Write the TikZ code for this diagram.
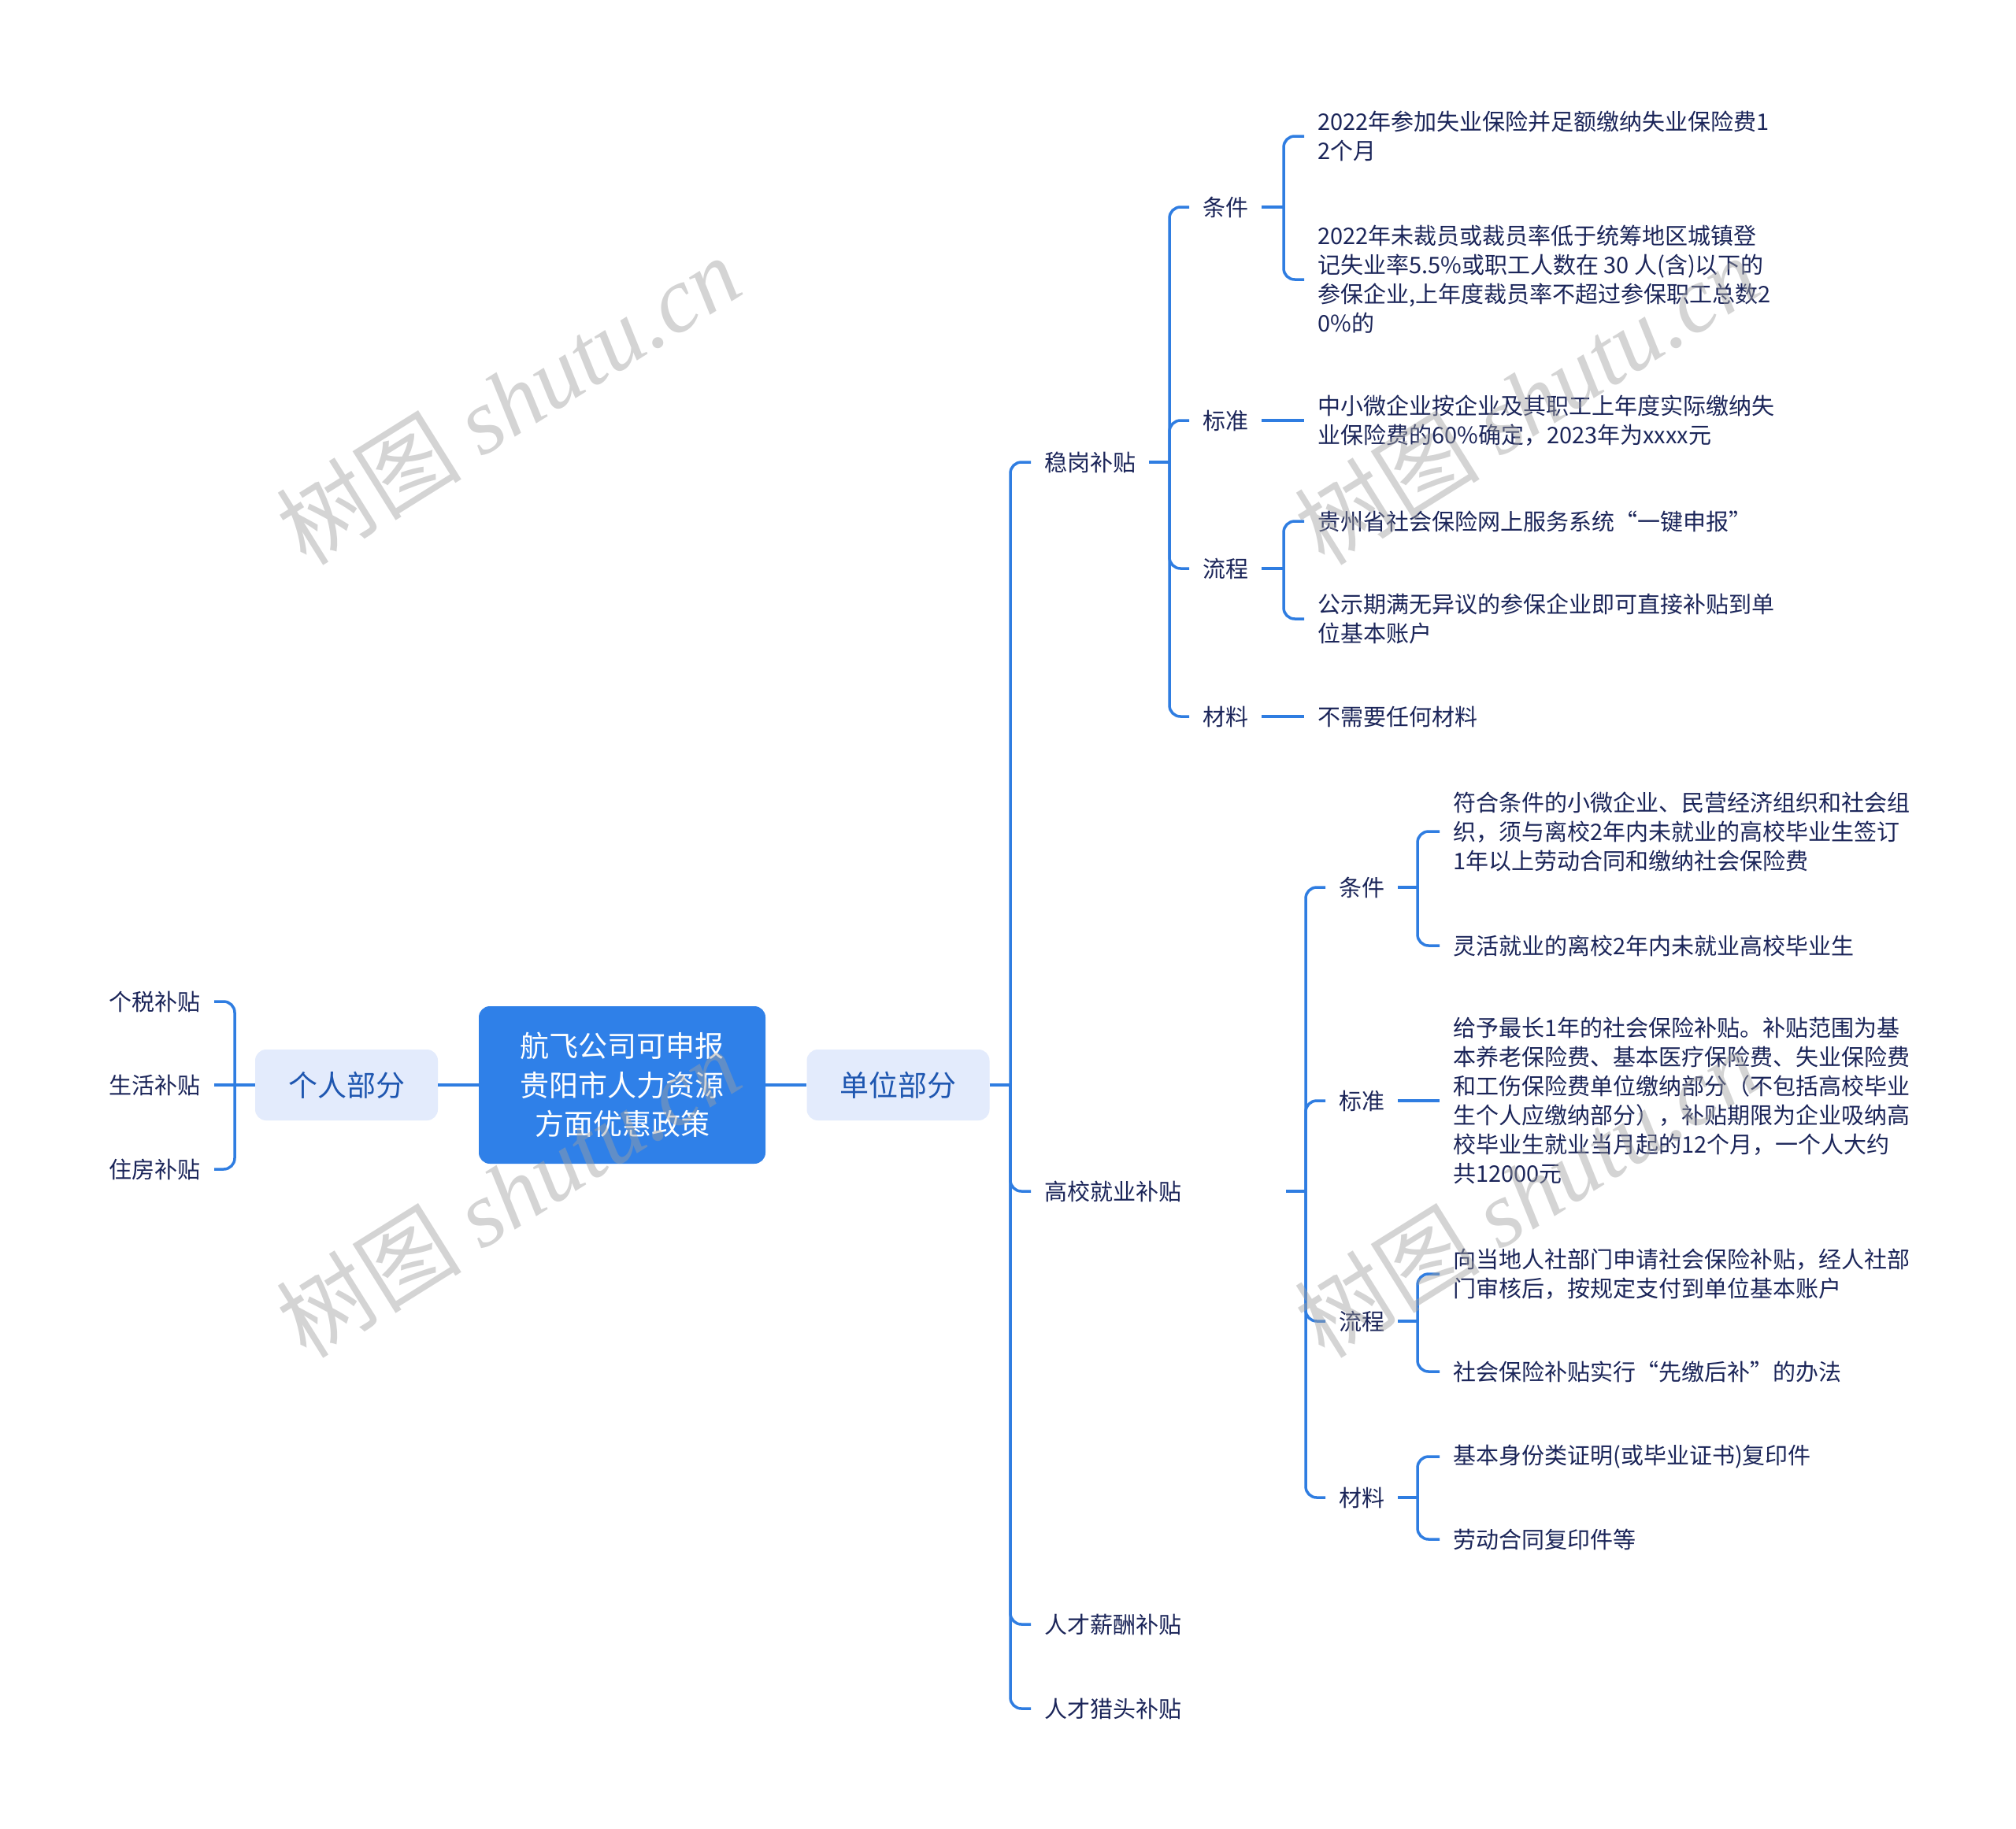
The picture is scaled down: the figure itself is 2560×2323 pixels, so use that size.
\documentclass[tikz,border=0pt]{standalone}
\usepackage{fontspec}
\setmainfont{Noto Sans CJK SC}
\newfontfamily\wmlatin{Liberation Serif}
\definecolor{linec}{HTML}{2F7DE1}
\definecolor{rootc}{HTML}{2F80E8}
\definecolor{lightc}{HTML}{E3EBFC}
\definecolor{txtc}{HTML}{1B2559}
\definecolor{boxtxt}{HTML}{1E56B0}
\definecolor{wmc}{HTML}{A0A0A0}
\begin{document}
\begin{tikzpicture}[x=1pt,y=-1pt,
  conn/.style={draw=linec, line width=3.5pt, rounded corners=14pt},
  leaf/.style={inner xsep=17pt, inner ysep=0pt, align=left, text=txtc, font=\fontsize{29}{37}\selectfont},
  lbox/.style={fill=lightc, rounded corners=14pt, minimum width=232pt, minimum height=90pt, inner sep=0pt, text=boxtxt, font=\fontsize{37}{49}\selectfont},
  rootbox/.style={fill=rootc, rounded corners=14pt, minimum width=364pt, minimum height=200pt, inner sep=0pt, text=white, align=center, font=\fontsize{37}{49.5}\selectfont},
  wm/.style={text=wmc, text opacity=0.45, inner sep=0pt, rotate=32, font=\fontsize{118}{118}\selectfont}
]
\fill[white] (0,0) rectangle (2560,2323);
\useasboundingbox (0,0) rectangle (2560,2323);

% main boxes
\node[rootbox] (root) at (790,1378) {航飞公司可申报\\贵阳市人力资源\\方面优惠政策};
\node[lbox] (gr) at (440,1378) {个人部分};
\node[lbox] (dw) at (1140.5,1378) {单位部分};

% left leaves
\node[leaf, anchor=east] (l1) at (272,1272) {个税补贴};
\node[leaf, anchor=east] (l2) at (272,1378) {生活补贴};
\node[leaf, anchor=east] (l3) at (272,1485) {住房补贴};

% level 2
\node[leaf, anchor=west] (wg) at (1309,587) {稳岗补贴};
\node[leaf, anchor=west] (gx) at (1309,1513) {高校就业补贴};
\node[leaf, anchor=west] (xc) at (1309,2063) {人才薪酬补贴};
\node[leaf, anchor=west] (lt) at (1309,2170) {人才猎头补贴};

% 稳岗 children
\node[leaf, anchor=west] (wtj) at (1510,263) {条件};
\node[leaf, anchor=west] (wbz) at (1510,534) {标准};
\node[leaf, anchor=west] (wlc) at (1510,722) {流程};
\node[leaf, anchor=west] (wcl) at (1510,910) {材料};

\node[leaf, anchor=west] (c1) at (1656,173) {2022年参加失业保险并足额缴纳失业保险费1\\2个月};
\node[leaf, anchor=west] (c2) at (1656,355) {2022年未裁员或裁员率低于统筹地区城镇登\\记失业率5.5\%或职工人数在 30 人(含)以下的\\参保企业,上年度裁员率不超过参保职工总数2\\0\%的};
\node[leaf, anchor=west] (s1) at (1656,534) {中小微企业按企业及其职工上年度实际缴纳失\\业保险费的60\%确定，2023年为xxxx元};
\node[leaf, anchor=west] (p1) at (1656,662) {贵州省社会保险网上服务系统“一键申报”};
\node[leaf, anchor=west] (p2) at (1656,786) {公示期满无异议的参保企业即可直接补贴到单\\位基本账户};
\node[leaf, anchor=west] (m1) at (1656,910) {不需要任何材料};

% 高校 children
\node[leaf, anchor=west] (gtj) at (1683,1127) {条件};
\node[leaf, anchor=west] (gbz) at (1683,1398) {标准};
\node[leaf, anchor=west] (glc) at (1683,1678) {流程};
\node[leaf, anchor=west] (gcl) at (1683,1902) {材料};

\node[leaf, anchor=west] (g1) at (1828,1056) {符合条件的小微企业、民营经济组织和社会组\\织，须与离校2年内未就业的高校毕业生签订\\1年以上劳动合同和缴纳社会保险费};
\node[leaf, anchor=west] (g2) at (1828,1201) {灵活就业的离校2年内未就业高校毕业生};
\node[leaf, anchor=west] (gs) at (1828,1398) {给予最长1年的社会保险补贴。补贴范围为基\\本养老保险费、基本医疗保险费、失业保险费\\和工伤保险费单位缴纳部分（不包括高校毕业\\生个人应缴纳部分），补贴期限为企业吸纳高\\校毕业生就业当月起的12个月，一个人大约\\共12000元};
\node[leaf, anchor=west] (gp1) at (1828,1618) {向当地人社部门申请社会保险补贴，经人社部\\门审核后，按规定支付到单位基本账户};
\node[leaf, anchor=west] (gp2) at (1828,1742) {社会保险补贴实行“先缴后补”的办法};
\node[leaf, anchor=west] (gm1) at (1828,1850) {基本身份类证明(或毕业证书)复印件};
\node[leaf, anchor=west] (gm2) at (1828,1955) {劳动合同复印件等};

% junction coordinates
\coordinate (jL) at (298,1378);
\coordinate (jR) at (1283,1378);
\coordinate (jW) at (1485,587);
\coordinate (jWtj) at (1630,263);
\coordinate (jWlc) at (1630,722);
\coordinate (gxs) at (1633,1513);
\coordinate (jG) at (1658,1513);
\coordinate (jGtj) at (1800,1127);
\coordinate (jGlc) at (1800,1678);
\coordinate (jGcl) at (1800,1902);

% connectors
\draw[conn] (root.west) -- (gr.east);
\draw[conn] (root.east) -- (dw.west);
\draw[conn] (gr.west) -- (l2.east);
\draw[conn] (jL) |- (l1.east);
\draw[conn] (jL) |- (l3.east);

\draw[conn] (dw.east) -- (jR);
\foreach \c in {wg,gx,xc,lt} { \draw[conn] (jR) |- (\c.west); }

\draw[conn] (wg.east) -- (jW);
\foreach \c in {wtj,wbz,wlc,wcl} { \draw[conn] (jW) |- (\c.west); }
\draw[conn] (wtj.east) -- (jWtj);
\draw[conn] (jWtj) |- (c1.west);
\draw[conn] (jWtj) |- (c2.west);
\draw[conn] (wbz.east) -- (s1.west);
\draw[conn] (wlc.east) -- (jWlc);
\draw[conn] (jWlc) |- (p1.west);
\draw[conn] (jWlc) |- (p2.west);
\draw[conn] (wcl.east) -- (m1.west);

\draw[conn] (gxs) -- (jG);
\foreach \c in {gtj,gbz,glc,gcl} { \draw[conn] (jG) |- (\c.west); }
\draw[conn] (gtj.east) -- (jGtj);
\draw[conn] (jGtj) |- (g1.west);
\draw[conn] (jGtj) |- (g2.west);
\draw[conn] (gbz.east) -- (gs.west);
\draw[conn] (glc.east) -- (jGlc);
\draw[conn] (jGlc) |- (gp1.west);
\draw[conn] (jGlc) |- (gp2.west);
\draw[conn] (gcl.east) -- (jGcl);
\draw[conn] (jGcl) |- (gm1.west);
\draw[conn] (jGcl) |- (gm2.west);

% watermarks
\node[wm] (w1) at (645,508) {树图 {\wmlatin\itshape shutu.cn}};
\node[wm] (w2) at (645,1515) {树图 {\wmlatin\itshape shutu.cn}};
\node[wm] (w3) at (1938,508) {树图 {\wmlatin\itshape shutu.cn}};
\node[wm] (w4) at (1938,1515) {树图 {\wmlatin\itshape shutu.cn}};
\end{tikzpicture}
\end{document}
